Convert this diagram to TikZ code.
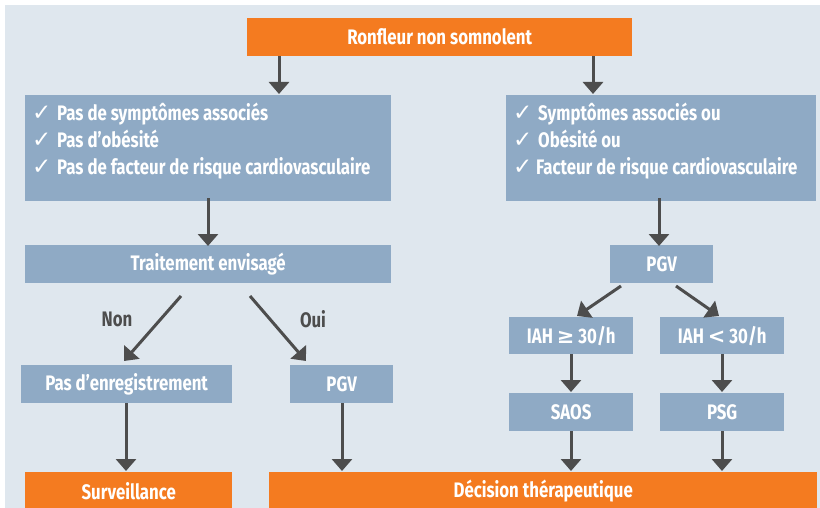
\documentclass[tikz,border=0pt]{standalone}
\usepackage{fontspec}
\setmainfont{Fira Sans}[FakeStretch=0.8]
\newfontfamily\symf{DejaVu Sans}
\usetikzlibrary{arrows.meta,calc}
\definecolor{orng}{RGB}{244,123,32}
\definecolor{bluebox}{RGB}{143,170,197}
\definecolor{bgc}{RGB}{223,231,238}
\definecolor{arr}{RGB}{77,77,77}
\newcommand{\ck}[1][25pt]{\makebox[#1][l]{\fontsize{23}{24}\symf\mdseries ✓}}
\begin{document}
\begin{tikzpicture}[x=1pt,y=-1pt,
  box/.style={fill=bluebox, draw=none, inner sep=0pt, anchor=north west, text=white,
    font=\bfseries\fontsize{21}{24}\selectfont},
  obox/.style={box, fill=orng},
  txt/.style={inner sep=0pt, anchor=base west, text=white, font=\bfseries\fontsize{21}{24}\selectfont},
  lbl/.style={inner sep=0pt, text=arr, font=\bfseries\fontsize{21}{24}\selectfont},
  arrowline/.style={draw=arr, line width=3pt, -{Triangle[width=20pt,length=12pt]}, shorten >=1pt}
]
\useasboundingbox (0,0) rectangle (820,508);
\fill[bgc] (5,5) rectangle (820,508);

% nodes
\node[obox, minimum width=385pt, minimum height=38pt] (top) at (247,18) {Ronfleur non somnolent};
\node[box, minimum width=366pt, minimum height=106pt] (left) at (25,95) {};
\node[box, minimum width=310pt, minimum height=106pt] (right) at (506,95) {};
\node[box, minimum width=366pt, minimum height=38pt] (trait) at (25,245) {Traitement envisagé};
\node[box, minimum width=103pt, minimum height=38pt] (pgvr) at (610,245) {PGV};
\node[box, minimum width=211pt, minimum height=38pt] (pasenr) at (21,365) {Pas d’enregistrement};
\node[box, minimum width=103pt, minimum height=38pt] (pgvl) at (290,365) {PGV};
\node[box, minimum width=124pt, minimum height=37pt] (iahge) at (509,317) {IAH {\symf ≥} 30/h};
\node[box, minimum width=124pt, minimum height=37pt] (iahlt) at (660,317) {IAH {\symf <} 30/h};
\node[box, minimum width=124pt, minimum height=38pt] (saos) at (509,393) {SAOS};
\node[box, minimum width=124pt, minimum height=38pt] (psg) at (660,393) {PSG};
\node[obox, minimum width=207pt, minimum height=37pt] (surv) at (25,472) {Surveillance};
\node[obox, minimum width=548pt, minimum height=37pt] (dec) at (269,472) {Décision thérapeutique};

% box texts
\node[txt] (l1) at (32,121) {\ck Pas de symptômes associés};
\node[txt] (l2) at (32,148) {\ck Pas d’obésité};
\node[txt] (l3) at (32,175) {\ck Pas de facteur de risque cardiovasculaire};
\node[txt] (r1) at (513,121) {\ck Symptômes associés ou};
\node[txt] (r2) at (513,148) {\ck Obésité ou};
\node[txt] (r3) at (513,175) {\ck[23pt]Facteur de risque cardiovasculaire};

% labels
\node[lbl] (non) at (117,319) {Non};
\node[lbl] (oui) at (313,319) {Oui};

% coordinates for arrows
\coordinate (xa) at (279,0);
\coordinate (xb) at (593,0);
\coordinate (xc) at (208,0);
\coordinate (xd) at (659,0);
\coordinate (xe) at (126,0);
\coordinate (xf) at (342,0);
\coordinate (xg) at (571,0);
\coordinate (xh) at (722,0);
\coordinate (n0) at (181,296);
\coordinate (n1) at (124,361);
\coordinate (o0) at (250,296);
\coordinate (o1) at (306,361);
\coordinate (p0) at (621,286);
\coordinate (p1) at (577,316);
\coordinate (q0) at (676,286);
\coordinate (q1) at (719,316);

% arrows
\draw[arrowline] (top.south -| xa) -- (left.north -| xa);
\draw[arrowline] (top.south -| xb) -- (right.north -| xb);
\draw[arrowline] ([yshift=3pt]left.south -| xc) -- ([yshift=-2pt]trait.north -| xc);
\draw[arrowline] ([yshift=3pt]right.south -| xd) -- ([yshift=-2pt]pgvr.north -| xd);
\draw[arrowline, shorten >=0pt] (n0) -- (n1);
\draw[arrowline, shorten >=0pt] (o0) -- (o1);
\draw[arrowline, shorten >=0pt] (p0) -- (p1);
\draw[arrowline, shorten >=0pt] (q0) -- (q1);
\draw[arrowline] (pasenr.south -| xe) -- (surv.north -| xe);
\draw[arrowline] (pgvl.south -| xf) -- (dec.north -| xf);
\draw[arrowline] (iahge.south -| xg) -- (saos.north -| xg);
\draw[arrowline] (iahlt.south -| xh) -- (psg.north -| xh);
\draw[arrowline] (saos.south -| xg) -- (dec.north -| xg);
\draw[arrowline] (psg.south -| xh) -- (dec.north -| xh);
\end{tikzpicture}
\end{document}
